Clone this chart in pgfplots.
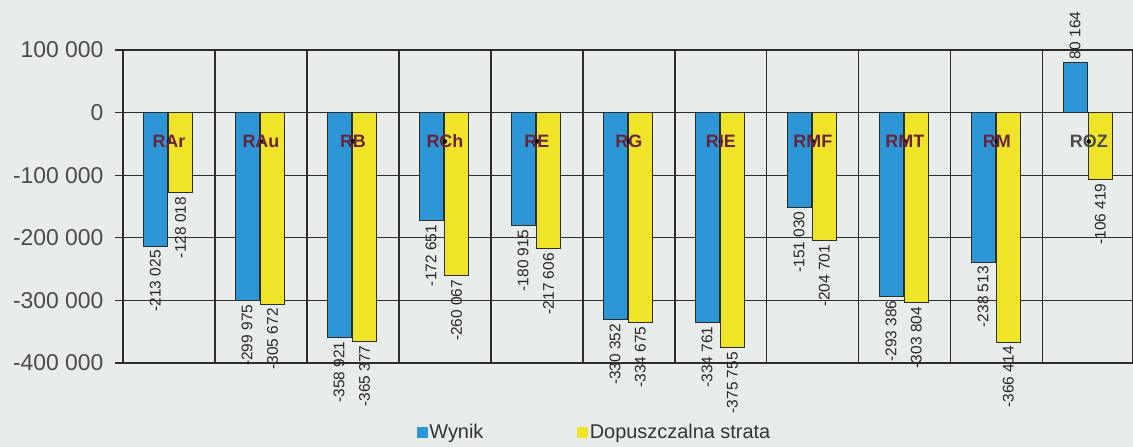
\documentclass[border=0pt]{standalone}
\usepackage{pgfplots}
\pgfplotsset{compat=1.18}
\usepackage{fontspec}
\setmainfont{Liberation Sans}
\definecolor{bg}{RGB}{232,237,235}
\definecolor{wblue}{RGB}{45,150,215}
\definecolor{dyellow}{RGB}{240,228,40}
\definecolor{gridc}{RGB}{45,45,45}
\definecolor{catc}{RGB}{105,35,60}
\definecolor{tickc}{RGB}{75,75,75}
\begin{document}
\begin{tikzpicture}
\fill[bg] (-123bp,-84bp) rectangle (1010bp,363bp);
\clip (-123bp,-84bp) rectangle (1010bp,363bp);
\begin{axis}[
  scale only axis, width=1010bp, height=313bp,
  xmin=-0.5, xmax=10.48, ymin=-400000, ymax=100000,
  scaled y ticks=false,
  xtick={0.5,1.5,...,9.5}, xticklabel=\empty, xmajorgrids,
  ytick={-400000,-300000,-200000,-100000,0,100000},
  yticklabels={-400 000,-300 000,-200 000,-100 000,0,100 000},
  ymajorgrids,
  major grid style={gridc, line width=1.2bp},
  axis line style={gridc, line width=1.2bp},
  x tick style={draw=none},
  y tick style={gridc, line width=1.2bp},
  tick align=outside, major tick length=8bp,
  yticklabel style={font=\fontsize{23}{23}\selectfont, text=tickc, xshift=-8bp},
  legend style={at={(0.467,-0.22)}, anchor=center, draw=none, fill=none,
    legend columns=2, font=\fontsize{20}{20}\selectfont, text=black!80,
    /tikz/every even column/.append style={column sep=92bp}},
]
% Wynik (negative)
\addplot[ybar, forget plot, bar width=24bp, bar shift=-13.8bp, fill=wblue, draw=gridc, line width=0.8bp,
  nodes near coords, point meta=explicit symbolic,
  every node near coord/.append style={xshift=-13.8bp, rotate=90, anchor=east, font=\fontsize{15.5}{15.5}\selectfont, text=black!85, inner sep=4bp}]
  coordinates {(0,-213025)[-213 025] (1,-299975)[-299 975] (2,-358921)[-358 921] (3,-172651)[-172 651]
  (4,-180915)[-180 915] (5,-330352)[-330 352] (6,-334761)[-334 761] (7,-151030)[-151 030]
  (8,-293386)[-293 386] (9,-238513)[-238 513]};
% Wynik (positive)
\addplot[ybar, forget plot, bar width=24bp, bar shift=-13.8bp, fill=wblue, draw=gridc, line width=0.8bp,
  nodes near coords, point meta=explicit symbolic,
  every node near coord/.append style={xshift=-13.8bp, rotate=90, anchor=west, font=\fontsize{15.5}{15.5}\selectfont, text=black!85, inner sep=3bp}]
  coordinates {(10,80164)[80 164]};
% Dopuszczalna strata
\addplot[ybar, forget plot, bar width=24bp, bar shift=11.5bp, fill=dyellow, draw=gridc, line width=0.8bp,
  nodes near coords, point meta=explicit symbolic,
  every node near coord/.append style={xshift=11.5bp, rotate=90, anchor=east, font=\fontsize{15.5}{15.5}\selectfont, text=black!85, inner sep=4bp}]
  coordinates {(0,-128018)[-128 018] (1,-305672)[-305 672] (2,-365377)[-365 377] (3,-260067)[-260 067]
  (4,-217606)[-217 606] (5,-334675)[-334 675] (6,-375755)[-375 755] (7,-204701)[-204 701]
  (8,-303804)[-303 804] (9,-366414)[-366 414] (10,-106419)[-106 419]};
% category names
\addplot[only marks, mark=*, mark options={draw=none, fill=none}, forget plot,
  nodes near coords, point meta=explicit symbolic,
  every node near coord/.append style={anchor=center, font=\bfseries\fontsize{18}{18}\selectfont, text=catc}]
  coordinates {(0,-46000)[RAr] (1,-46000)[RAu] (2,-46000)[RB] (3,-46000)[RCh] (4,-46000)[RE]
  (5,-46000)[RG] (6,-46000)[RIE] (7,-46000)[RMF] (8,-46000)[RMT] (9,-46000)[RM]};
\addplot[only marks, mark=*, mark options={draw=none, fill=none}, forget plot,
  nodes near coords, point meta=explicit symbolic,
  every node near coord/.append style={anchor=center, font=\bfseries\fontsize{18}{18}\selectfont, text=tickc}]
  coordinates {(10,-46000)[ROZ]};
\addlegendimage{legend image code/.code={\fill[wblue] (0bp,-5bp) rectangle (10bp,5bp);}}
\addlegendentry{Wynik}
\addlegendimage{legend image code/.code={\fill[dyellow] (0bp,-5bp) rectangle (10bp,5bp);}}
\addlegendentry{Dopuszczalna strata}
\end{axis}
\end{tikzpicture}
\end{document}
